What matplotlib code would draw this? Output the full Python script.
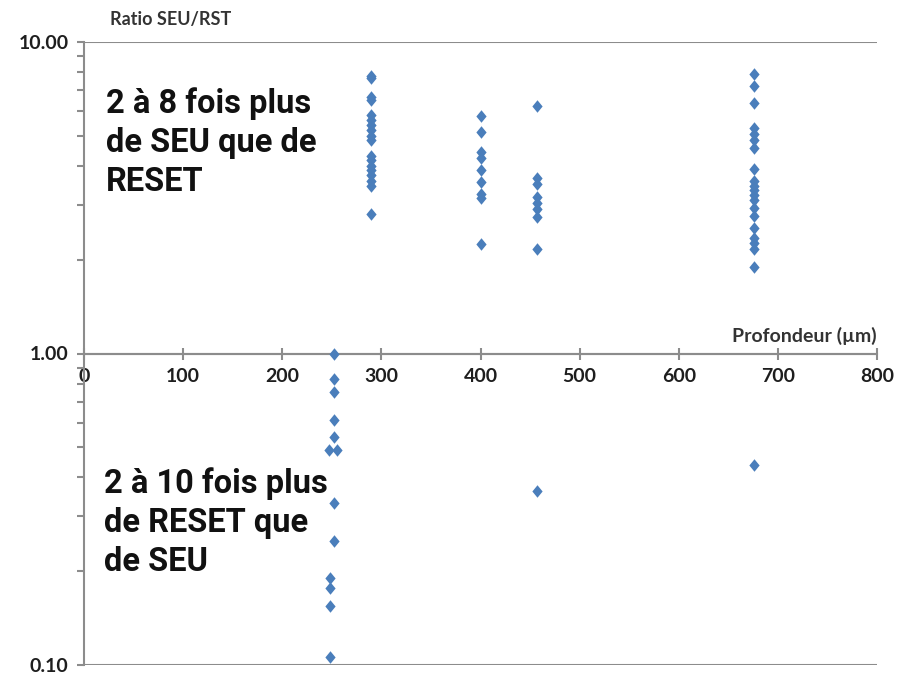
import matplotlib
matplotlib.use("Agg")
import matplotlib.pyplot as plt
from matplotlib.ticker import FixedLocator, NullFormatter, FuncFormatter

# depth (um) and SEU/RST ratio
depth_250 = [252, 252, 252, 252, 252, 247, 255, 252, 252, 248, 248, 248, 248]
ratio_250 = [1.0, 0.83, 0.75, 0.61, 0.54, 0.49, 0.49, 0.33, 0.25, 0.19, 0.177, 0.155, 0.106]

depth_290 = [290] * 18
ratio_290 = [7.8, 7.64, 6.68, 6.5, 5.81, 5.6, 5.4, 5.2, 5.01, 4.83,
             4.32, 4.17, 4.01, 3.87, 3.73, 3.59, 3.46, 2.81]

depth_400 = [400] * 9
ratio_400 = [5.77, 5.16, 4.45, 4.23, 3.87, 3.54, 3.24, 3.15, 2.25]

depth_457 = [457] * 9
ratio_457 = [6.25, 3.65, 3.51, 3.17, 3.05, 2.92, 2.74, 2.17, 0.363]

depth_676 = [676] * 21
ratio_676 = [7.87, 7.25, 6.39, 5.28, 5.08, 4.83, 4.58, 3.90, 3.59, 3.46, 3.34,
             3.22, 3.10, 2.94, 2.77, 2.52, 2.34, 2.26, 2.17, 1.89, 0.437]

x_ticks = [0, 100, 200, 300, 400, 500, 600, 700, 800]
y_ticks = [0.1, 1, 10]

depths = depth_250 + depth_290 + depth_400 + depth_457 + depth_676
ratios = ratio_250 + ratio_290 + ratio_400 + ratio_457 + ratio_676

axis_grey = "#8c8c8c"
text_col = "#1e1e1e"
blue = "#4a7ebb"

# slightly tall diamond like the excel marker
diamond = [(0, 1), (0.82, 0), (0, -1), (-0.82, 0), (0, 1)]

fig = plt.figure(figsize=(9, 6.77), dpi=100)
ax = fig.add_axes([84 / 900, 1 - 665 / 677, (877 - 84) / 900, (665 - 42) / 677])

ax.plot(depths, ratios, linestyle="none", marker=diamond, markersize=9,
        color=blue, markeredgewidth=0, zorder=5, clip_on=False)

ax.set_yscale("log")
ax.set_ylim(0.1, 10)
ax.set_xlim(0, 800)

ax.spines["top"].set_visible(False)
ax.spines["right"].set_visible(False)
ax.spines["bottom"].set_position(("data", 1))
for s in ("left", "bottom"):
    ax.spines[s].set_color(axis_grey)
    ax.spines[s].set_linewidth(1.5)

# horizontal lines at the decades
for yv in y_ticks:
    ax.axhline(yv, color=axis_grey, linewidth=1.5, zorder=1)

ax.xaxis.set_major_locator(FixedLocator(x_ticks))
ax.yaxis.set_major_locator(FixedLocator(y_ticks))
ax.yaxis.set_minor_locator(FixedLocator([k * 10 ** e for e in (-1, 0) for k in range(2, 10)]))
ax.yaxis.set_minor_formatter(NullFormatter())
ax.yaxis.set_major_formatter(FuncFormatter(lambda v, p: "%.2f" % v))

ax.tick_params(axis="x", which="major", direction="inout", length=9, width=1.5,
               color=axis_grey, pad=6)
ax.tick_params(axis="y", which="both", direction="out", length=5, width=1.5,
               color=axis_grey, pad=6)

for lab in ax.get_xticklabels() + ax.get_yticklabels():
    lab.set_fontfamily("Lato")
    lab.set_fontweight("bold")
    lab.set_fontsize(14)
    lab.set_color(text_col)

fig.text(110 / 900, 1 - 19 / 677, "Ratio SEU/RST", family="Lato", weight="bold",
         fontsize=13, color="#333333", va="center", ha="left")
fig.text(877 / 900, 1 - 336 / 677, "Profondeur (µm)", family="Lato", weight="bold",
         fontsize=14, color="#333333", va="center", ha="right")

ann = dict(family="Roboto", weight="bold", fontsize=23.5, color="#111111",
           ha="left", va="top", linespacing=1.28)
fig.text(106 / 900, 1 - 87 / 677, "2 à 8 fois plus\nde SEU que de\nRESET", **ann)
fig.text(104 / 900, 1 - 467 / 677, "2 à 10 fois plus\nde RESET que\nde SEU", **ann)

fig.savefig("out.png", dpi=100)
